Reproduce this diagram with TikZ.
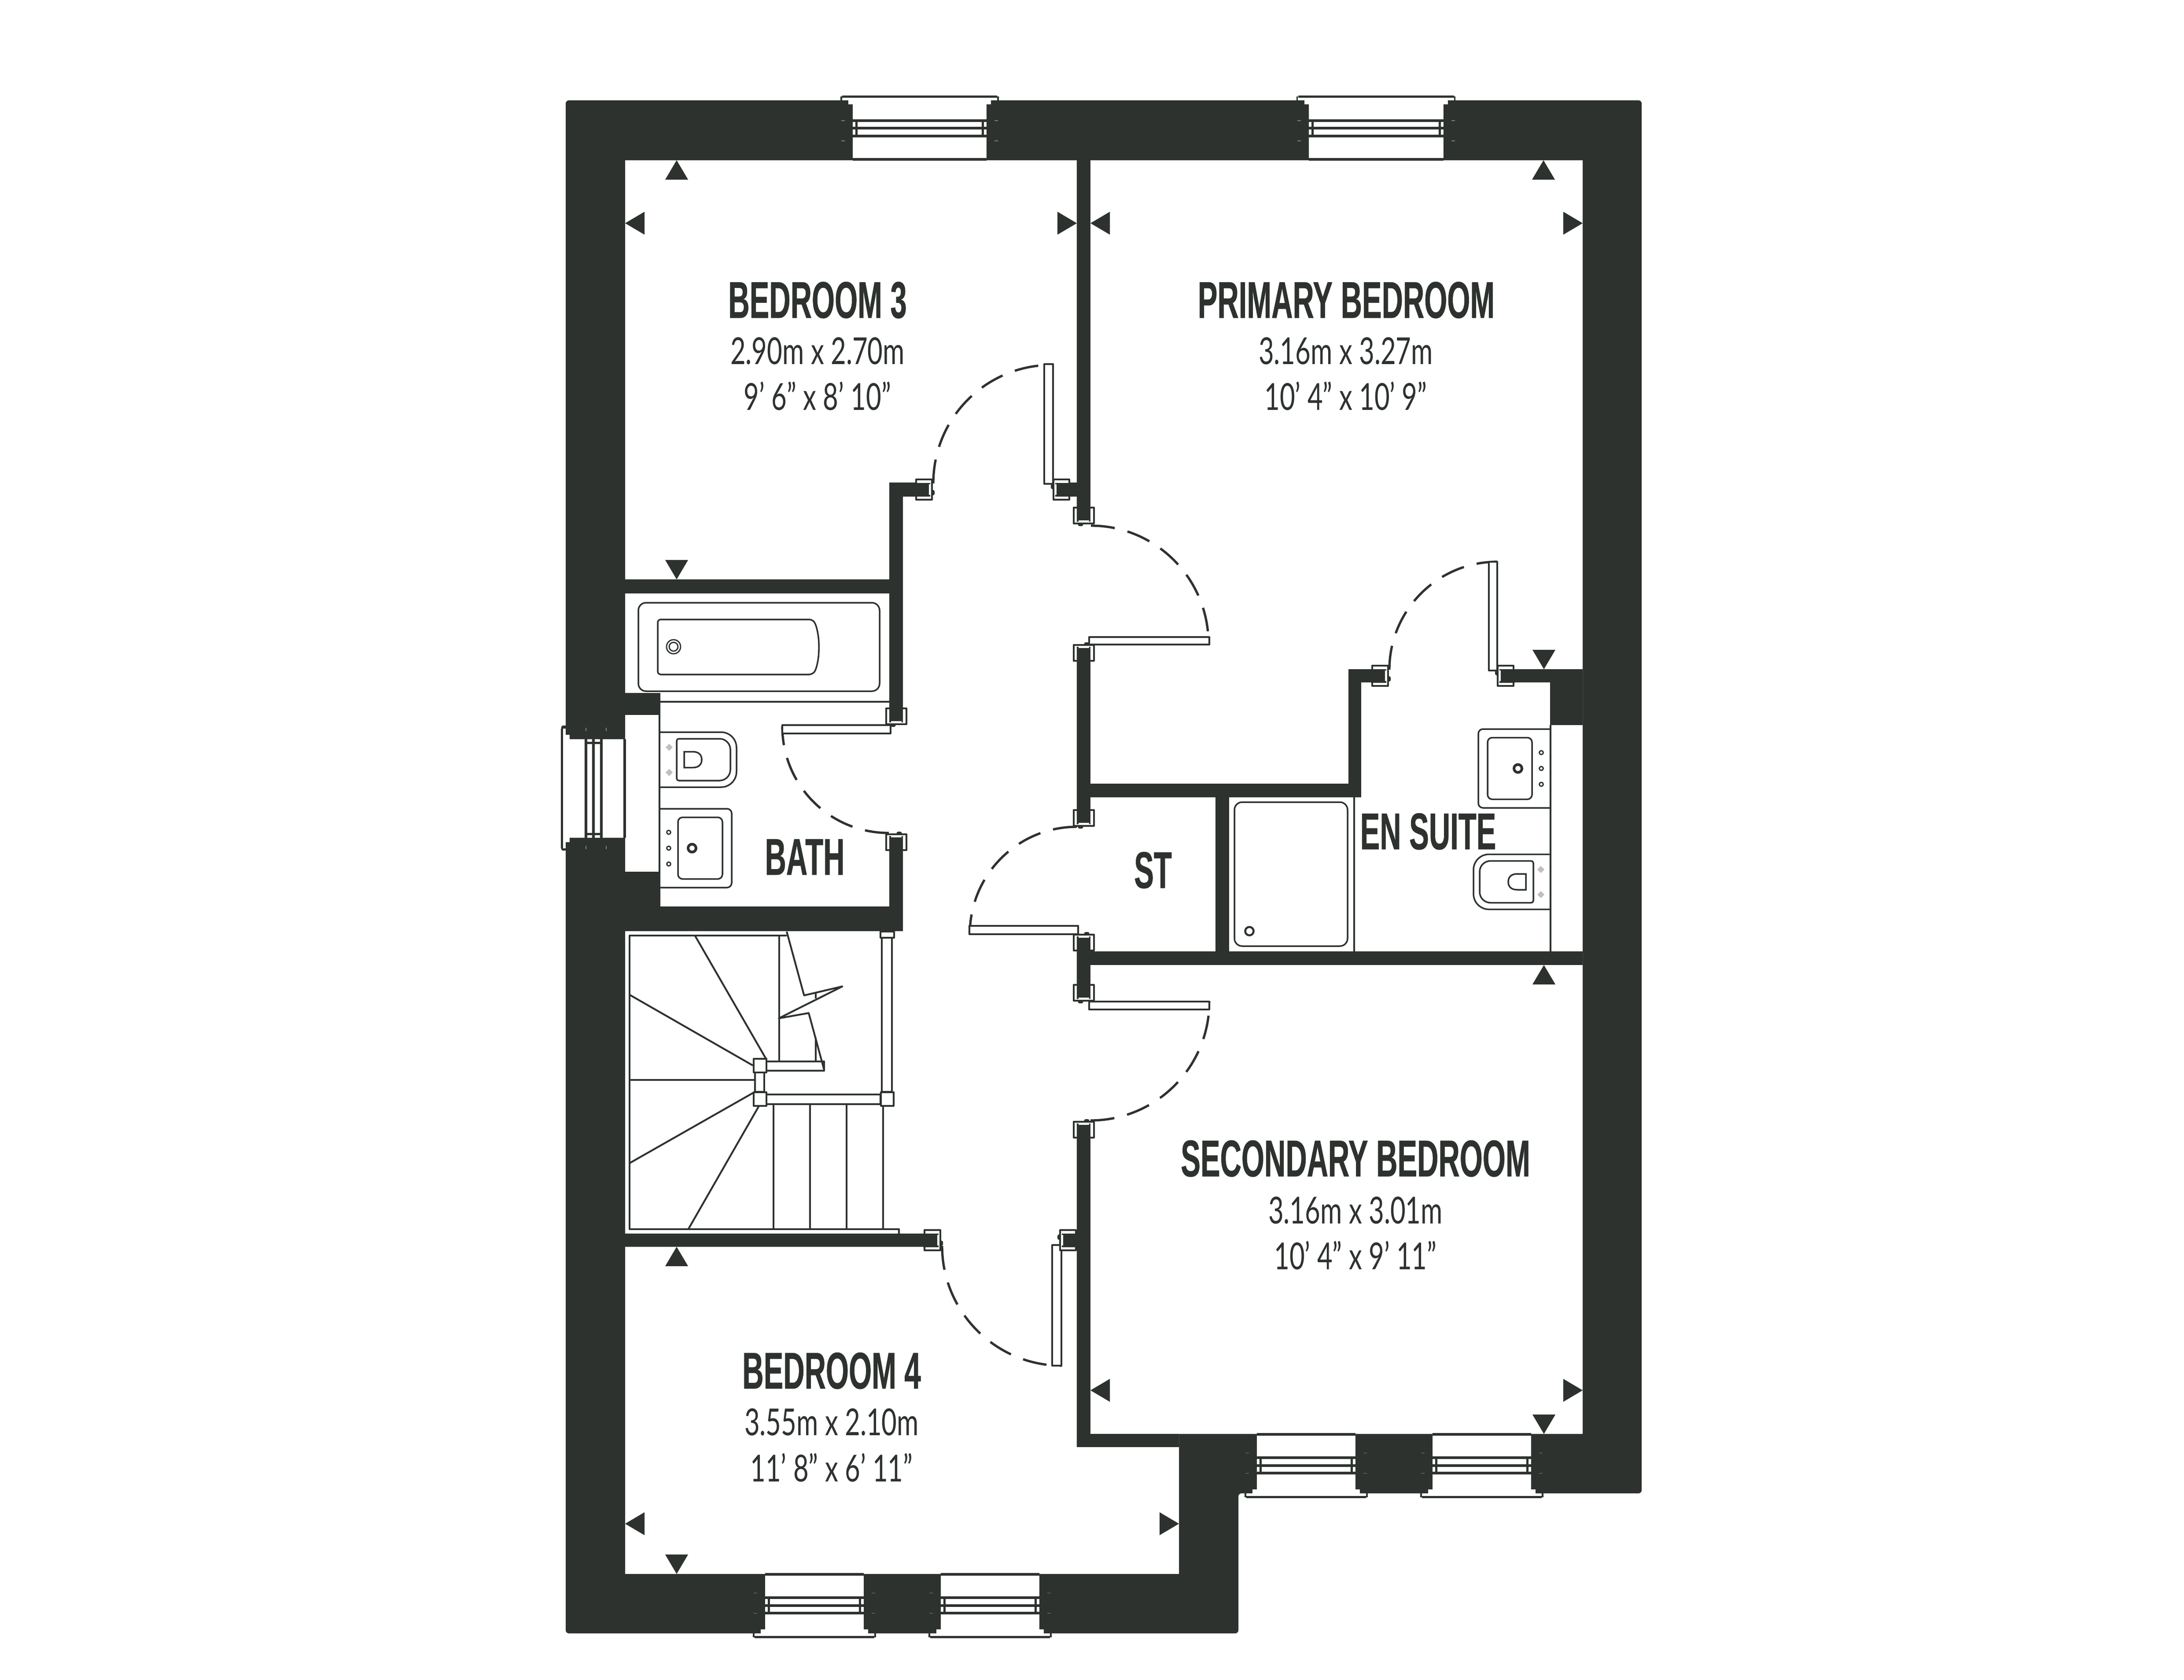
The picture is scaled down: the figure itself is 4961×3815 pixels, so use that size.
\documentclass[tikz,border=0pt]{standalone}
\usepackage{fontspec}
\newfontfamily\roomfont[FakeStretch=0.57,BoldFeatures={FakeBold=0.5}]{Liberation Sans}
\newfontfamily\sizefont[FakeStretch=0.71]{Lato}
\definecolor{wallcol}{HTML}{2D322E}
\tikzset{
    roomlabel/.style={font=\roomfont\bfseries\fontsize{33.4}{36}\selectfont,text=wallcol,inner sep=0pt,text height=23.9pt,text depth=0pt},
    sizelabel/.style={font=\sizefont\fontsize{24}{28}\selectfont,text=wallcol,inner sep=0pt,text height=17.4pt,text depth=0pt},
    fixline/.style={draw=wallcol,line width=1pt},
    doorline/.style={draw=wallcol,line width=1.15pt,line join=round},
    swingline/.style={draw=wallcol,line width=1.5pt,dash pattern=on 15.5pt off 8.5pt},
    hairline/.style={draw=gray,line width=0.3pt}
}
% window in an outer wall, local v runs from the outer face inwards
\newcommand{\casementunit}[4]{
    \begin{scope}[shift={(#1,#2)},rotate=#3]
        \def\hg{#4}
        \fill[white] ({-\hg-10},-1) rectangle ({\hg+10},9);
        \fill[white] (-\hg,9) rectangle (\hg,134);
        \foreach \va/\vb in {43/49,60/66,78/84,131/137}{
            \fill[wallcol] (-\hg,\va) rectangle (\hg,\vb);
        }
        \fill[wallcol] ({-\hg+6},49) rectangle ({-\hg+11},78);
        \fill[wallcol] ({\hg-11},49) rectangle ({\hg-6},78);
        \fill[wallcol] ({-\hg-24},-11) rectangle ({\hg+24},-6);
        \draw[doorline,line width=1pt] ({-\hg-26},0) -- ({-\hg-26},-9);
        \draw[doorline,line width=1pt] ({\hg+26},0) -- ({\hg+26},-9);
        \foreach \v in {46,92}{
            \draw[hairline] ({-\hg-26},\v) -- ({-\hg-18},\v);
            \draw[hairline] ({\hg+18},\v) -- ({\hg+26},\v);
        }
    \end{scope}
}
% door jamb at the end of a partition
\newcommand{\jambunit}[3]{
    \begin{scope}[shift={(#1,#2)},rotate=#3]
        \draw[doorline,fill=white] (-23,2) rectangle (23,38);
        \fill[wallcol] (-15.5,-1) rectangle (15.5,34);
        \fill[white] (-12,31) rectangle (12,35);
        \fill[wallcol,rounded corners=1pt] (-13,37) rectangle (-1,44);
    \end{scope}
}
\newcommand{\basinunit}[3]{
    \begin{scope}[shift={(#1,#2)},xscale=#3]
        \draw[fixline,rounded corners=3pt] (0,-89.5) -- (164,-89.5) -- (164,89.5) -- (0,89.5);
        \draw[fixline,rounded corners=3pt] (42,-70) rectangle (143,70);
        \draw[draw=wallcol,line width=1.7pt] (74,0) circle[radius=9];
        \foreach \v in {-36,0,36}{
            \draw[fixline,line width=0.8pt] (21,\v) circle[radius=4.5];
        }
    \end{scope}
}
\newcommand{\wcunit}[3]{
    \begin{scope}[shift={(#1,#2)},xscale=#3]
        \draw[fixline,rounded corners=10pt] (0,-62.5) -- (175,-62.5) -- (175,62.5) -- (0,62.5);
        \draw[fixline] [rounded corners=1.4pt] (39,-47.5) -- (39,47.5) [rounded corners=7pt] -- (161,47.5) -- (161,-47.5) [rounded corners=1.4pt] -- cycle;
        \draw[fixline] (56,-18) -- (76,-18) .. controls (90,-18) and (96,-10) .. (96,0) .. controls (96,10) and (90,18) .. (76,18) -- (56,18) -- cycle;
        \foreach \v in {-28,29}{
            \fill[gray!50] (22,{\v-8}) -- (30,\v) -- (22,{\v+8}) -- (14,\v) -- cycle;
        }
    \end{scope}
}
\begin{document}
\begin{tikzpicture}[x=0.01cm,y=-0.01cm]
    \useasboundingbox (0,0) rectangle (4961,3815);
    % shell and rooms
    \fill[wallcol,rounded corners=2pt] (1285,228) -- (3729,228) -- (3729,3392) -- (2813,3392) -- (2813,3710) -- (1285,3710) -- cycle;
    \fill[white] (1420,364) -- (3595,364) -- (3595,3257) -- (2678,3257) -- (2678,3575) -- (1420,3575) -- cycle;
    % partitions
    \foreach \xa/\ya/\xb/\yb in {
        2446/364/2477/1151,
        2431/1096/2446/1128,
        2020/1096/2051/1607,
        2051/1096/2079/1128,
        1420/1316/2020/1348,
        1420/1574/1500/1624,
        1420/1980/1500/2059,
        1420/2059/2051/2115,
        2020/1933/2051/2059,
        1420/2802/2098/2832,
        2446/1503/2477/1838,
        2446/1780/3092/1811,
        3063/1520/3092/1780,
        3063/1520/3115/1550,
        3440/1520/3595/1550,
        3521/1550/3595/1647,
        2761/1811/2792/2161,
        2446/2161/3595/2192,
        2446/2161/2477/2235,
        2446/2586/2477/3287,
        2446/3257/2678/3287}{
            \fill[wallcol](\xa,\ya) rectangle (\xb,\yb);
    }
    % windows
    \foreach \x/\y/\r/\g in {
        2089/228/0/152,
        3125.5/228/0/153,
        1850/3710/180/112,
        2249/3710/180/112,
        2967/3392/180/112,
        3366/3392/180/112,
        1285/1791/90/112}{
            \casementunit{\x}{\y}{\r}{\g}
    }
    \draw[doorline] (1277,1650) -- (1277,1930);
    \draw[doorline] (1277,1650) -- (1285,1650);
    \draw[doorline] (1277,1930) -- (1285,1930);
    % bath
    \draw[fixline,rounded corners=5pt] (1450,1369) rectangle (1998,1570);
    \draw[fixline] [rounded corners=2pt] (1494,1407) -- (1845,1407) .. controls (1855,1420) and (1860,1445) .. (1860,1470) .. controls (1860,1495) and (1855,1520) .. (1845,1532) -- (1494,1532) -- cycle;
    \draw[fixline,line width=0.8pt] (1530,1469) circle[radius=16];
    \draw[fixline,line width=0.8pt] (1530,1469) circle[radius=10];
    \draw[fixline] (1500,1594) -- (2020,1594);
    \draw[fixline] (1498,1624) -- (1498,1980);
    \wcunit{1498}{1725.5}{1}
    \basinunit{1498}{1926.5}{1}
    % en suite
    \draw[fixline] (3522,1647) -- (3522,2161);
    \wcunit{3522}{2003}{-1}
    \basinunit{3522}{1745.5}{-1}
    \draw[fixline] (3076,1811) -- (3076,2161);
    \draw[fixline,rounded corners=5pt] (2804,1822) rectangle (3061,2149);
    \draw[draw=wallcol,line width=1.3pt] (2838,2115) circle[radius=9.5];
    % stairs
    \draw[doorline] (1787,2125) -- (1430,2125) -- (1430,2792) -- (2042,2792) -- (2042,2802);
    \foreach \xa/\ya/\xb/\yb in {
        1578.5/2125/1740/2405,
        1430/2259.5/1710/2420,
        1430/2453/1714/2453,
        1430/2642/1714/2480.5,
        1563.5/2792/1724/2512,
        1770/2125/1770/2410,
        1756.5/2507/1756.5/2792,
        1840/2507/1840/2792,
        1923/2507/1923/2792,
        2006/2507/2006/2792,
        1853/2254/1853/2268,
        1853/2357/1853/2410}{
            \draw[doorline](\xa,\ya) -- (\xb,\yb);
    }
    \draw[doorline] (1741,2411) rectangle (1872,2432);
    \draw[doorline] (1714.5,2436) rectangle (1736,2480);
    \draw[doorline] (1741,2486) rectangle (2000,2507.5);
    \draw[doorline] (2003,2130) rectangle (2026,2480);
    \draw[doorline] (2000,2116) rectangle (2031,2130);
    \foreach \y in {2405,2480.5}{
        \draw[doorline,fill=white] (1712,\y) rectangle (1741,{\y+31});
    }
    \draw[doorline,fill=white] (2001,2480.5) rectangle (2030,2511.5);
    \draw[doorline] (1787,2116) -- (1826.5,2261) -- (1913.5,2240.5) -- (1769,2313) -- (1837,2301) -- (1872,2430);
    % door swings
    \draw[swingline] (2478,1194) .. controls +(147,0) and +(0,-147) .. (2745,1461);
    \draw[swingline] (2120,1098) .. controls +(0,-149) and +(-149,0) .. (2389,829);
    \draw[swingline] (2019,1892) .. controls +(-134,0) and +(0,134) .. (1777,1650);
    \draw[swingline] (2446,1878) .. controls +(-134,0) and +(0,-134) .. (2203,2121);
    \draw[swingline] (2477,2545) .. controls +(149,0) and +(0,149) .. (2747,2275);
    \draw[swingline] (3156,1521) .. controls +(0,-135) and +(-135,0) .. (3401,1276);
    \draw[swingline] (2140,2830) .. controls +(0,150) and +(-150,0) .. (2412,3102);
    % door leaves
    \foreach \xa/\ya/\xb/\yb in {
        2474/1447/2747/1464,
        1777/1647/2023/1666,
        2202/2103/2449/2122,
        2474/2275/2747/2293,
        2372/827/2392/1099,
        3382/1276/3401/1523,
        2390/2828/2411/3102}{
            \draw[doorline,fill=white](\xa,\ya) rectangle (\xb,\yb);
    }
    % jambs
    \foreach \x/\y/\r in {
        2035.5/1607/0,
        2035.5/1933/180,
        2079/1112/90,
        2431/1112/-90,
        2461.5/1151/0,
        2461.5/1503/180,
        2461.5/1838/0,
        2461.5/2161/180,
        2461.5/2235/0,
        2461.5/2586/180,
        3115/1535/90,
        3440/1535/-90,
        2098/2817/90,
        2446/2817/-90}{
            \jambunit{\x}{\y}{\r}
    }
    % dimension marks
    \foreach \x/\y in {1537/364,3506/364,3507/2192,1537/2832}{
        \fill[wallcol](\x,\y) -- ++(-26,44) -- ++(52,0) -- cycle;
    }
    \foreach \x/\y in {1537/1316,3507/1520,1537/3575,3507/3257}{
        \fill[wallcol](\x,\y) -- ++(-26,-44) -- ++(52,0) -- cycle;
    }
    \foreach \x/\y in {1420/507,2477/507,2477/3158,1420/3461}{
        \fill[wallcol](\x,\y) -- ++(44,-26) -- ++(0,52) -- cycle;
    }
    \foreach \x/\y in {2446/507,3595/507,3595/3158,2678/3461}{
        \fill[wallcol](\x,\y) -- ++(-44,-26) -- ++(0,52) -- cycle;
    }
    % labels
    \node[roomlabel] (bedthree) at (1857,680) {BEDROOM 3};
    \node[sizelabel] (bedthreem) at (1857,797) {2.90m x 2.70m};
    \node[sizelabel] (bedthreeft) at (1857,901) {9’ 6” x 8’ 10”};
    \node[roomlabel] (primary) at (3058,680) {PRIMARY BEDROOM};
    \node[sizelabel] (primarym) at (3057,797) {3.16m x 3.27m};
    \node[sizelabel] (primaryft) at (3057,901) {10’ 4” x 10’ 9”};
    \node[roomlabel] (secondary) at (3079,2630) {SECONDARY BEDROOM};
    \node[sizelabel] (secondarym) at (3079,2749) {3.16m x 3.01m};
    \node[sizelabel] (secondaryft) at (3079,2853) {10’ 4” x 9’ 11”};
    \node[roomlabel] (bedfour) at (1889,3112) {BEDROOM 4};
    \node[sizelabel] (bedfourm) at (1889,3230) {3.55m x 2.10m};
    \node[sizelabel] (bedfourft) at (1889,3335) {11’ 8” x 6’ 11”};
    \node[roomlabel] (bath) at (1828,1945) {BATH};
    \node[roomlabel] (st) at (2619,1975) {ST};
    \node[roomlabel] (ensuite) at (3244,1887) {EN SUITE};
\end{tikzpicture}
\end{document}
